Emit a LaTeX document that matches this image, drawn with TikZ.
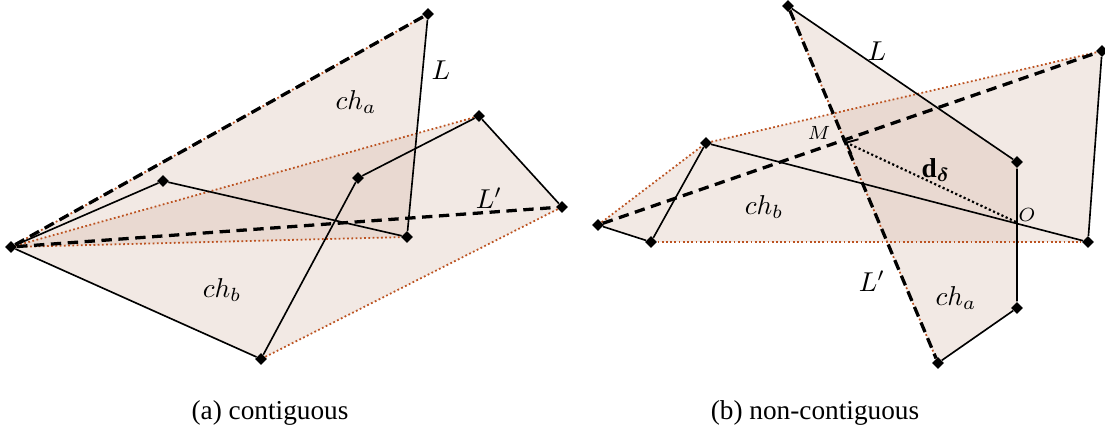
\documentclass[tikz,border=0pt]{standalone}
\usepackage{amsmath}
\usepackage{fontspec}
\setmainfont{Liberation Serif}
\usetikzlibrary{shapes.geometric,arrows.meta,backgrounds}

\definecolor{hullfill}{RGB}{212,182,165}
\definecolor{hulledge}{RGB}{188,82,32}

\tikzset{
  vtx/.style={diamond, fill=black, inner sep=0pt, minimum size=4.4pt},
  chain/.style={line width=0.6pt},
  hull/.style={hulledge, line width=0.65pt, dash pattern=on 0.65pt off 0.9pt},
  bridge/.style={line width=1.2pt, dash pattern=on 3.8pt off 2.4pt},
  hullarea/.style={fill=hullfill, fill opacity=0.3},
}

\begin{document}
\begin{tikzpicture}[x=0.3665pt, y=-0.3665pt]
    \useasboundingbox (0,0) rectangle (1105,437);

    % (a) contiguous: vertices
    \node[vtx] (la) at (11,247) {};
    \node[vtx] (lt) at (428,14) {};
    \node[vtx] (lp) at (407,237) {};
    \node[vtx] (lb) at (163,181) {};
    \node[vtx] (lc) at (358,178) {};
    \node[vtx] (ld) at (479,116) {};
    \node[vtx] (le) at (562,207) {};
    \node[vtx] (lf) at (261,359) {};

    % Hull areas
    \begin{pgfonlayer}{background}
      \fill[hullarea] (la.center) -- (lt.center) -- (lp.center) -- cycle;
      \fill[hullarea] (la.center) -- (lf.center) -- (le.center) -- (ld.center) -- cycle;
    \end{pgfonlayer}

    % Hull edges
    \draw[hull] (la) -- (lt);
    \draw[hull] (la) -- (lp);
    \draw[hull] (la) -- (ld);
    \draw[hull] (lf) -- (le);

    % Chains
    \draw[chain] (la) -- (lb) -- (lp) -- (lt);
    \draw[chain] (la) -- (lf) -- (lc) -- (ld) -- (le);

    % Bridges L and L'
    \draw[bridge] (la) -- (lt);
    \draw[bridge] (la) -- (le);

    % Labels
    \node (lL) at (441,70) {$L$};
    \node (lL2) at (489,198) {$L'$};
    \node (lcha) at (356,102) {$ch_a$};
    \node (lchb) at (222,290) {$ch_b$};

    % (b) non-contiguous: vertices
    \node[vtx] (r1) at (788,6) {};
    \node[vtx] (r2) at (1017,162) {};
    \node[vtx] (r3) at (1017,308) {};
    \node[vtx] (r4) at (938,363) {};
    \node[vtx] (r5) at (1102,51) {};
    \node[vtx] (r6) at (1088,242) {};
    \node[vtx] (r7) at (598,225) {};
    \node[vtx] (r8) at (651,242) {};
    \node[vtx] (r9) at (706,143) {};
    \coordinate (M) at (845,142);
    \coordinate (O) at (1016,222);

    % Hull areas
    \begin{pgfonlayer}{background}
      \fill[hullarea] (r1.center) -- (r2.center) -- (r3.center) -- (r4.center) -- cycle;
      \fill[hullarea] (r7.center) -- (r9.center) -- (r5.center) -- (r6.center) -- (r8.center) -- cycle;
    \end{pgfonlayer}

    % Hull edges
    \draw[hull] (r1) -- (r4);
    \draw[hull] (r7) -- (r9) -- (r5);
    \draw[hull] (r8) -- (r6);

    % Chains
    \draw[chain] (r1) -- (r2) -- (r3) -- (r4);
    \draw[chain] (r7) -- (r8) -- (r9) -- (r6) -- (r5);

    % Bridges L' and the second one
    \draw[bridge] (r1) -- (r4);
    \draw[bridge] (r7) -- (r5);

    % Distance d
    \draw[line width=0.8pt, dash pattern=on 0.8pt off 0.9pt,
          -{Straight Barb[length=3.5pt, width=6pt, line width=0.7pt]}] (O) -- (M);

    % Labels
    \node (rL) at (877,51) {$L$};
    \node (rL2) at (872,281) {$L'$};
    \node (rcha) at (956,298) {$ch_a$};
    \node (rchb) at (764,207) {$ch_b$};
    \node (rd) at (936,170) {$\mathbf{d}_{\boldsymbol{\delta}}$};
    \node[font=\scriptsize] (rM) at (819,133) {$M$};
    \node[font=\scriptsize] (rO) at (1027,215) {$O$};

    % Captions
    \node (capa) at (270,413) {(a) contiguous};
    \node (capb) at (815,413) {(b) non-contiguous};
\end{tikzpicture}
\end{document}
